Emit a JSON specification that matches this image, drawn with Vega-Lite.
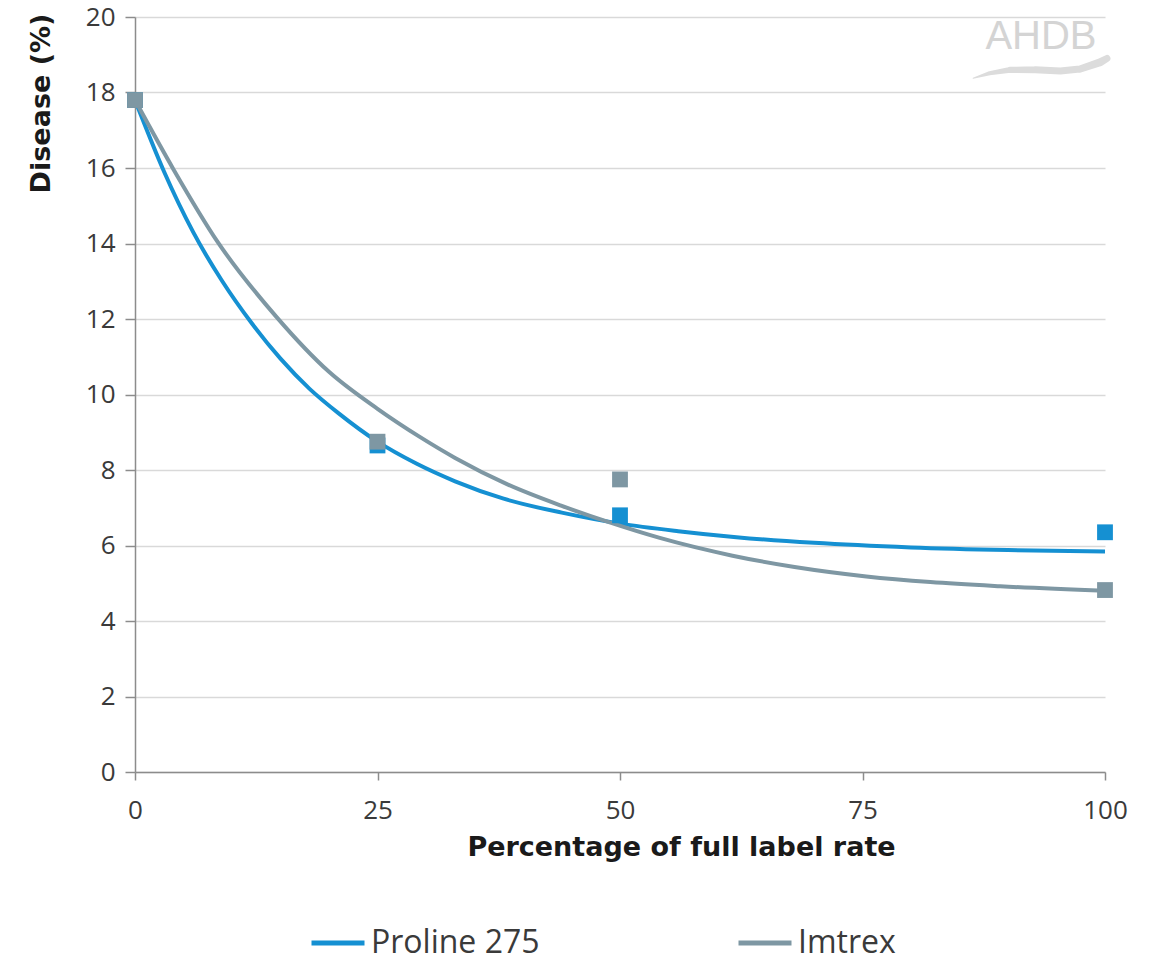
{
  "$schema": "https://vega.github.io/schema/vega-lite/v6.json",
  "autosize": {"type": "none"},
  "width": 970,
  "height": 755,
  "padding": {"left": 135, "top": 17, "right": 58, "bottom": 186},
  "background": "white",
  "config": {
    "view": {"stroke": null},
    "font": "Open Sans",
    "axis": {"labelFont": "Open Sans", "titleFont": "DejaVu Sans", "labelColor": "#3a3a3a", "titleColor": "#1a1a1a"}
  },
  "datasets": {
    "points": [
      {"rate": 0, "disease": 17.8, "product": "Proline 275"},
      {"rate": 25, "disease": 8.65, "product": "Proline 275"},
      {"rate": 50, "disease": 6.8, "product": "Proline 275"},
      {"rate": 100, "disease": 6.35, "product": "Proline 275"},
      {"rate": 0, "disease": 17.8, "product": "Imtrex"},
      {"rate": 25, "disease": 8.75, "product": "Imtrex"},
      {"rate": 50, "disease": 7.75, "product": "Imtrex"},
      {"rate": 100, "disease": 4.82, "product": "Imtrex"}
    ],
    "curves": [
      {"rate": 0, "disease": 17.8, "product": "Proline 275"},
      {"rate": 3, "disease": 15.9, "product": "Proline 275"},
      {"rate": 6, "disease": 14.3, "product": "Proline 275"},
      {"rate": 9, "disease": 13.0, "product": "Proline 275"},
      {"rate": 12, "disease": 11.9, "product": "Proline 275"},
      {"rate": 15, "disease": 10.95, "product": "Proline 275"},
      {"rate": 18, "disease": 10.15, "product": "Proline 275"},
      {"rate": 21, "disease": 9.5, "product": "Proline 275"},
      {"rate": 25, "disease": 8.75, "product": "Proline 275"},
      {"rate": 29, "disease": 8.17, "product": "Proline 275"},
      {"rate": 33, "disease": 7.7, "product": "Proline 275"},
      {"rate": 38, "disease": 7.24, "product": "Proline 275"},
      {"rate": 44, "disease": 6.87, "product": "Proline 275"},
      {"rate": 50, "disease": 6.58, "product": "Proline 275"},
      {"rate": 56, "disease": 6.38, "product": "Proline 275"},
      {"rate": 62, "disease": 6.22, "product": "Proline 275"},
      {"rate": 70, "disease": 6.07, "product": "Proline 275"},
      {"rate": 80, "disease": 5.95, "product": "Proline 275"},
      {"rate": 90, "disease": 5.88, "product": "Proline 275"},
      {"rate": 100, "disease": 5.84, "product": "Proline 275"},
      {"rate": 0, "disease": 17.8, "product": "Imtrex"},
      {"rate": 4, "disease": 15.95, "product": "Imtrex"},
      {"rate": 8.5, "disease": 14.05, "product": "Imtrex"},
      {"rate": 14.6, "disease": 12.05, "product": "Imtrex"},
      {"rate": 20, "disease": 10.6, "product": "Imtrex"},
      {"rate": 25, "disease": 9.62, "product": "Imtrex"},
      {"rate": 29.4, "disease": 8.87, "product": "Imtrex"},
      {"rate": 33, "disease": 8.32, "product": "Imtrex"},
      {"rate": 38.4, "disease": 7.62, "product": "Imtrex"},
      {"rate": 44, "disease": 7.05, "product": "Imtrex"},
      {"rate": 48.7, "disease": 6.63, "product": "Imtrex"},
      {"rate": 54.1, "disease": 6.2, "product": "Imtrex"},
      {"rate": 61.6, "disease": 5.73, "product": "Imtrex"},
      {"rate": 68, "disease": 5.43, "product": "Imtrex"},
      {"rate": 75.4, "disease": 5.18, "product": "Imtrex"},
      {"rate": 82, "disease": 5.03, "product": "Imtrex"},
      {"rate": 89.2, "disease": 4.92, "product": "Imtrex"},
      {"rate": 100, "disease": 4.8, "product": "Imtrex"}
    ],
    "logo": [
      {"rate": 93.4, "disease": 19.46, "label": "AHDB"}
    ],
    "wave": [
      {"rate": 86.4, "disease": 18.38, "w": 1},
      {"rate": 88.1, "disease": 18.51, "w": 4},
      {"rate": 90.2, "disease": 18.6, "w": 6},
      {"rate": 92.8, "disease": 18.6, "w": 7},
      {"rate": 95.4, "disease": 18.57, "w": 7},
      {"rate": 97.4, "disease": 18.62, "w": 7},
      {"rate": 99.5, "disease": 18.8, "w": 8},
      {"rate": 100.2, "disease": 18.9, "w": 7}
    ]
  },
  "layer": [
    {
      "data": {"name": "wave"},
      "mark": {"type": "trail", "color": "#dcdcdc"},
      "encoding": {
        "x": {"field": "rate", "type": "quantitative", "scale": {"domain": [0, 100], "nice": false}},
        "y": {"field": "disease", "type": "quantitative", "scale": {"domain": [0, 20], "nice": false}},
        "order": {"field": "rate"},
        "size": {"field": "w", "type": "quantitative", "scale": {"domain": [0, 14], "range": [0, 14], "zero": true}, "legend": null}
      }
    },
    {
      "data": {"name": "logo"},
      "mark": {"type": "text", "font": "Liberation Sans", "fontSize": 40, "color": "#d4d4d4", "baseline": "middle", "align": "center"},
      "encoding": {
        "x": {"field": "rate", "type": "quantitative"},
        "y": {"field": "disease", "type": "quantitative"},
        "text": {"field": "label"}
      }
    },
    {
      "data": {"name": "curves"},
      "mark": {"type": "line", "strokeWidth": 4, "interpolate": "monotone"},
      "encoding": {
        "x": {
          "field": "rate", "type": "quantitative",
          "scale": {"domain": [0, 100], "nice": false},
          "axis": {
            "title": "Percentage of full label rate",
            "values": [0, 25, 50, 75, 100],
            "grid": false,
            "labelFlush": false,
            "domainColor": "#8c8c8c", "domainWidth": 1.5,
            "tickColor": "#8c8c8c", "tickSize": 8, "tickWidth": 1.5,
            "labelFontSize": 26, "labelPadding": 17,
            "titleFontSize": 27, "titleFontWeight": "bold",
            "titleX": 546, "titleY": 83, "titleBaseline": "alphabetic"
          }
        },
        "y": {
          "field": "disease", "type": "quantitative",
          "scale": {"domain": [0, 20], "nice": false},
          "axis": {
            "title": "Disease (%)",
            "values": [0, 2, 4, 6, 8, 10, 12, 14, 16, 18, 20],
            "grid": true, "gridColor": "#d9d9d9", "gridWidth": 1.5,
            "domainColor": "#8c8c8c", "domainWidth": 1.5,
            "tickColor": "#8c8c8c", "tickSize": 10, "tickWidth": 1.5,
            "labelFontSize": 26, "labelPadding": 10,
            "titleFontSize": 27, "titleFontWeight": "bold",
            "titleX": -94, "titleY": 86, "titleAlign": "center", "titleBaseline": "middle"
          }
        },
        "stroke": {
          "field": "product", "type": "nominal",
          "scale": {"domain": ["Proline 275", "Imtrex"], "range": ["#1590d2", "#7e97a3"]},
          "legend": {
            "title": null,
            "orient": "none",
            "direction": "horizontal",
            "legendX": 174,
            "legendY": 897,
            "symbolType": "stroke",
            "symbolSize": 2809,
            "symbolStrokeWidth": 5,
            "labelFontSize": 32,
            "labelLimit": 400,
            "labelColor": "#3a3a3a",
            "labelOffset": 4,
            "columnPadding": 188
          }
        },
        "detail": {"field": "product"}
      }
    },
    {
      "data": {"name": "points"},
      "mark": {"type": "square", "size": 250, "opacity": 1},
      "encoding": {
        "x": {"field": "rate", "type": "quantitative"},
        "y": {"field": "disease", "type": "quantitative"},
        "fill": {
          "field": "product", "type": "nominal",
          "scale": {"domain": ["Proline 275", "Imtrex"], "range": ["#1590d2", "#7e97a3"]},
          "legend": null
        },
        "order": {"field": "product", "sort": "descending"}
      }
    }
  ]
}
